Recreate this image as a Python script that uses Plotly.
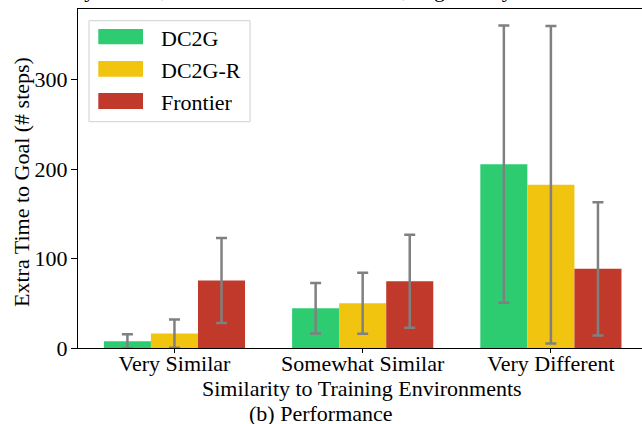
import plotly.graph_objects as go

categories = ["Very Similar", "Somewhat Similar", "Very Different"]
series_names = ["DC2G", "DC2G-R", "Frontier"]
dc2g = [7.5, 44.5, 205.5]
dc2g_err = [7.8, 28.3, 155.0]
dc2g_r = [16.1, 50.0, 182.5]
dc2g_r_err = [15.8, 34.0, 177.5]
frontier = [75.5, 74.7, 88.5]
frontier_err = [47.5, 52.0, 74.5]
y_ticks = [0, 100, 200, 300]

colors = ["#2ecc71", "#f1c40f", "#c0392b"]
FONT = "Liberation Serif, Times New Roman, serif"
FS = 22

W, H = 642, 424
L, R, T, B = 78, 642, 9, 348


def px(x):
    return (x - L) / (R - L)


def py(y):
    return (B - y) / (B - T)


fig = go.Figure()
for name, vals, errs, col in zip(series_names, [dc2g, dc2g_r, frontier],
                                 [dc2g_err, dc2g_r_err, frontier_err], colors):
    fig.add_trace(go.Bar(
        x=categories, y=vals, name=name, marker_color=col, marker_line_width=0,
        error_y=dict(type="data", array=errs, visible=True, color="#808080",
                     thickness=2.5, width=5.5),
        showlegend=False,
    ))

shapes = []
annotations = []

# legend box
shapes.append(dict(type="rect", xref="paper", yref="paper", x0=px(89), x1=px(250),
                   y0=py(121.7), y1=py(20.7),
                   line=dict(color="#d0d0d0", width=1), fillcolor="rgba(255,255,255,0.8)",
                   layer="above"))
sw_y = [(29, 44.3), (61, 76.7), (93, 109)]
for (a, b), name, col in zip(sw_y, series_names, colors):
    shapes.append(dict(type="rect", xref="paper", yref="paper", x0=px(98.3), x1=px(143),
                       y0=py(b), y1=py(a), line=dict(width=0), fillcolor=col, layer="above"))
    annotations.append(dict(text=name, xref="paper", yref="paper", x=px(158.5),
                            y=py((a + b) / 2 + 1.5), xanchor="left", yanchor="middle",
                            showarrow=False, font=dict(family=FONT, size=FS, color="black")))

# axis titles and captions
annotations.append(dict(text="Extra Time to Goal (# steps)", xref="paper", yref="paper",
                        x=px(21), y=py(182), xanchor="center", yanchor="middle",
                        textangle=-90, showarrow=False,
                        font=dict(family=FONT, size=FS, color="black")))
annotations.append(dict(text="Similarity to Training Environments", xref="paper", yref="paper",
                        x=px(362), y=py(374), xanchor="center", yanchor="top",
                        showarrow=False, font=dict(family=FONT, size=FS, color="black")))
annotations.append(dict(text="(b) Performance", xref="paper", yref="paper",
                        x=px(321), y=py(398.5), xanchor="center", yanchor="top",
                        showarrow=False, font=dict(family=FONT, size=FS, color="black")))
annotations.append(dict(text="Left: very similar, Middle: somewhat similar, Right: very different",
                        xref="paper", yref="paper", x=px(596), y=py(4.2),
                        xanchor="right", yanchor="bottom", showarrow=False,
                        font=dict(family=FONT, size=FS, color="black")))

fig.update_layout(
    width=W, height=H,
    margin=dict(l=L, r=W - R, t=T, b=H - B, pad=0),
    paper_bgcolor="white", plot_bgcolor="white",
    barmode="group", bargap=0.25, bargroupgap=0,
    shapes=shapes, annotations=annotations,
    font=dict(family=FONT, size=FS, color="black"),
    xaxis=dict(range=[-0.5125, 2.484], showline=True, linecolor="black", linewidth=1.3,
               mirror=True, ticks="outside", ticklen=4, tickcolor="black", tickwidth=1.3,
               showgrid=False, zeroline=False, ticklabelstandoff=-9,
               tickfont=dict(family=FONT, size=FS, color="black")),
    yaxis=dict(range=[0, 379], tickvals=y_ticks, showline=True, linecolor="black", linewidth=1.3,
               ticks="outside", ticklen=6, tickcolor="black", tickwidth=1.3,
               showgrid=False, zeroline=False, ticklabelstandoff=-1,
               tickfont=dict(family=FONT, size=FS, color="black")),
)

fig.write_html("out.html", config={"displayModeBar": False},
               post_script="document.body.style.margin='0px';")
